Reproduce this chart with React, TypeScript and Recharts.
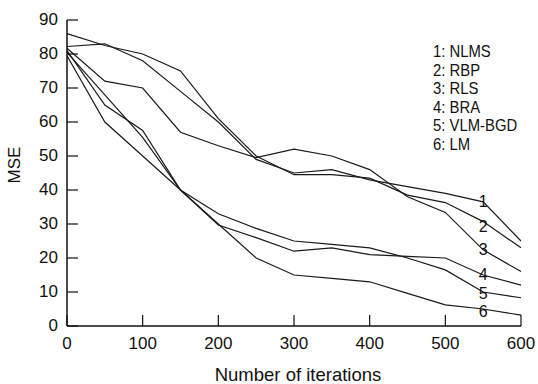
import React from 'react';
import { LineChart, Line, XAxis, YAxis } from 'recharts';

const iterations = [0, 50, 100, 150, 200, 250, 300, 350, 400, 450, 500, 550, 600];
const nlms = [82.2, 83, 78, 69, 60, 49, 45, 46, 43, 41, 39, 36.5, 25];
const rbp = [86, 82.5, 80, 75, 61, 50, 44.5, 44.5, 43.5, 38.5, 36.3, 30.7, 23];
const rls = [81.7, 72, 70, 57, 53, 49.5, 52, 50, 46, 38, 33.4, 22.4, 16];
const bra = [81, 65, 57.5, 40, 29.7, 26, 22, 23, 21, 20.5, 20, 15, 12];
const vlmbgd = [80.5, 68, 55.5, 40, 33, 28.7, 25, 24, 23, 20, 16.5, 10, 8.3];
const lm = [79.5, 60, 50, 40, 30, 20, 15, 14, 13, 9.6, 6.2, 5, 3.2];
const seriesNames = ['1: NLMS', '2: RBP', '3: RLS', '4: BRA', '5: VLM-BGD', '6: LM'];
const seriesTags = ['1', '2', '3', '4', '5', '6'];
const xTicks = [0, 100, 200, 300, 400, 500, 600];
const yTicks = [0, 10, 20, 30, 40, 50, 60, 70, 80, 90];
const labelIndex = 11;

const allSeries = [nlms, rbp, rls, bra, vlmbgd, lm];
const data = iterations.map((x, i) => {
  const row: Record<string, number> = { x };
  allSeries.forEach((s, k) => {
    row['s' + k] = s[i];
  });
  return row;
});

const labelDy = [0, 5, 0, -1, 1, 2];

const FONT = '"Liberation Sans", Arial, Helvetica, sans-serif';
const INK = '#111';

const XTick = (props: any) => {
  const { x, y, payload } = props;
  return (
    <g>
      <line x1={x} y1={y} x2={x} y2={y - 11} stroke={INK} strokeWidth={1.2} />
      <text x={x} y={y + 17} textAnchor="middle" dominantBaseline="central" fontSize={17} fontFamily={FONT} fill={INK}>
        {payload.value}
      </text>
    </g>
  );
};

const YTick = (props: any) => {
  const { x, y, payload } = props;
  return (
    <g>
      <line x1={x} y1={y} x2={x + 11} y2={y} stroke={INK} strokeWidth={1.2} />
      <text x={x - 9} y={y - 1} textAnchor="end" dominantBaseline="central" fontSize={17} fontFamily={FONT} fill={INK}>
        {payload.value}
      </text>
    </g>
  );
};

const makeLabel = (k: number) => (props: any) => {
  const { x, y, index } = props;
  if (index !== labelIndex) return null;
  return (
    <text x={x} y={y + labelDy[k]} textAnchor="middle" dominantBaseline="central" fontSize={16} fontFamily={FONT} fill={INK}>
      {seriesTags[k]}
    </text>
  );
};

export default function App() {
  return (
    <div style={{ position: 'absolute', left: 0, top: 0, width: 538, height: 384, background: '#fff' }}>
      <LineChart width={538} height={384} data={data} margin={{ top: 20, right: 17, bottom: 0, left: 0 }}>
        <XAxis
          dataKey="x"
          type="number"
          domain={[0, 600]}
          ticks={xTicks}
          tickSize={0}
          tickMargin={0}
          tickLine={false}
          tick={<XTick />}
          height={58}
          axisLine={{ stroke: INK, strokeWidth: 1.5 }}
          interval={0}
          label={(p: any) => {
            const vb = p.viewBox;
            return (
              <text x={vb.x + vb.width / 2 + 4} y={374} textAnchor="middle" dominantBaseline="central" fontSize={18.5} fontFamily={FONT} fill={INK}>
                Number of iterations
              </text>
            );
          }}
        />
        <XAxis
          xAxisId="top"
          dataKey="x"
          type="number"
          domain={[0, 600]}
          orientation="top"
          tick={false}
          tickLine={false}
          height={0}
          axisLine={{ stroke: INK, strokeWidth: 1.5 }}
        />
        <YAxis
          type="number"
          domain={[0, 90]}
          ticks={yTicks}
          tickSize={0}
          tickMargin={0}
          tickLine={false}
          tick={<YTick />}
          width={67}
          axisLine={{ stroke: INK, strokeWidth: 1.5 }}
          interval={0}
          label={(p: any) => {
            const vb = p.viewBox;
            const cy = vb.y + vb.height / 2 - 8;
            return (
              <text
                x={14}
                y={cy}
                transform={`rotate(-90, 14, ${cy})`}
                textAnchor="middle"
                dominantBaseline="central"
                fontSize={17}
                fontFamily={FONT}
                fill={INK}
              >
                MSE
              </text>
            );
          }}
        />
        <YAxis
          yAxisId="right"
          orientation="right"
          type="number"
          domain={[0, 90]}
          tick={false}
          tickLine={false}
          width={0}
          axisLine={{ stroke: INK, strokeWidth: 1.5 }}
        />
        {allSeries.map((_, k) => (
          <Line
            key={k}
            dataKey={'s' + k}
            name={seriesNames[k]}
            stroke="#1a1a1a"
            strokeWidth={1.2}
            dot={false}
            activeDot={false}
            isAnimationActive={false}
            label={makeLabel(k)}
          />
        ))}
      </LineChart>
      <div
        style={{
          position: 'absolute',
          left: 433,
          top: 42,
          fontFamily: FONT,
          fontSize: 16.5,
          lineHeight: '18.5px',
          color: INK,
          whiteSpace: 'nowrap',
          transform: 'scaleX(0.9)',
          transformOrigin: '0 0',
        }}
      >
        {seriesNames.map((n) => (
          <div key={n}>{n}</div>
        ))}
      </div>
    </div>
  );
}
